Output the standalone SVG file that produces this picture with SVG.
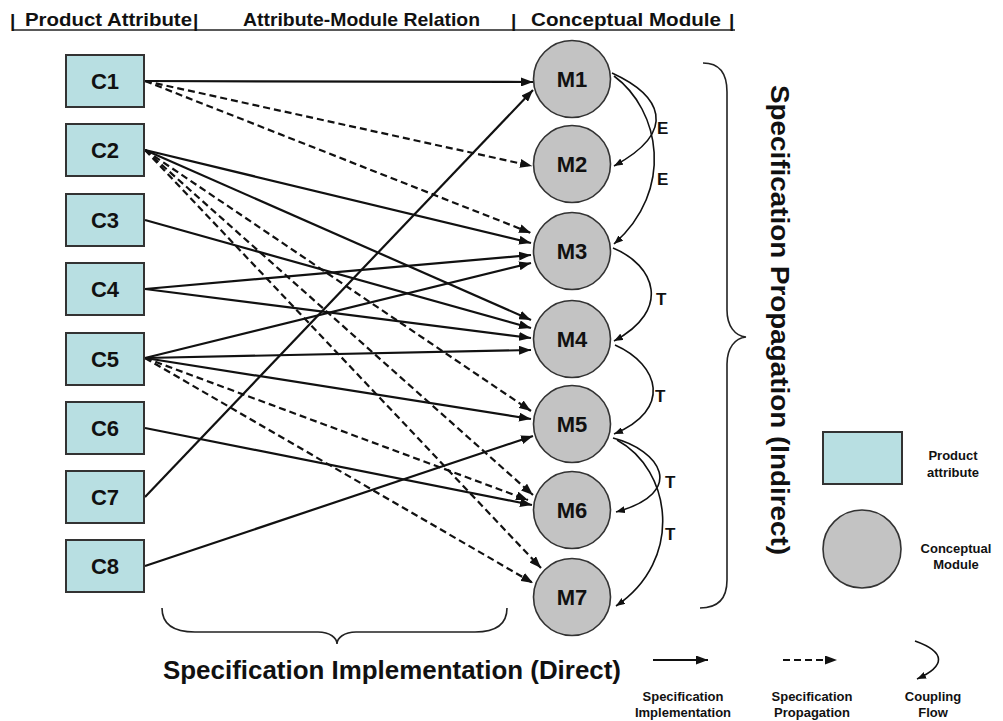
<svg xmlns="http://www.w3.org/2000/svg" width="1003" height="721" viewBox="0 0 1003 721">
  <style>
    text { font-family: "Liberation Sans", Arial, sans-serif; font-weight: bold; fill: #111; }
    .hdr { font-size: 19px; }
    .lbl { font-size: 22px; text-anchor: middle; }
    .cpl { font-size: 17px; }
    .leg { font-size: 13px; text-anchor: middle; }
    .big { font-size: 26px; }
    .box { fill: #b8dfe2; stroke: #333; stroke-width: 2; }
    .mod { fill: #c3c3c3; stroke: #333; stroke-width: 1.6; }
    .s { stroke: #111; stroke-width: 2.2; fill: none; marker-end: url(#ah); }
    .d { stroke: #111; stroke-width: 2.2; fill: none; stroke-dasharray: 7 4; marker-end: url(#ah); }
    .c { stroke: #111; stroke-width: 1.6; fill: none; marker-end: url(#ch); }
    .brace { stroke: #222; stroke-width: 1.6; fill: none; }
  </style>
  <defs>
    <marker id="ah" markerUnits="userSpaceOnUse" viewBox="0 0 12 9" refX="12" refY="4.5" markerWidth="12" markerHeight="9" orient="auto">
      <path d="M0,0 L12,4.5 L0,9 z" fill="#111"/>
    </marker>
    <marker id="ch" markerUnits="userSpaceOnUse" viewBox="0 0 9 7" refX="9" refY="3.5" markerWidth="9" markerHeight="7" orient="auto">
      <path d="M0,0 L9,3.5 L0,7 z" fill="#111"/>
    </marker>
  </defs>

  <!-- column header ruler -->
  <g id="header">
    <line x1="12" y1="30" x2="735" y2="30" stroke="#222" stroke-width="1.5"/>
    <text class="hdr" x="10" y="27">|</text>
    <text class="hdr" x="25" y="26" textLength="167" lengthAdjust="spacingAndGlyphs">Product Attribute</text>
    <text class="hdr" x="193" y="27">|</text>
    <text class="hdr" x="243" y="26" textLength="237" lengthAdjust="spacingAndGlyphs">Attribute-Module Relation</text>
    <text class="hdr" x="511" y="27">|</text>
    <text class="hdr" x="531" y="26" textLength="190" lengthAdjust="spacingAndGlyphs">Conceptual Module</text>
    <text class="hdr" x="729" y="27">|</text>
  </g>

  <!-- connectors -->
  <g id="connectors">
    <!-- specification implementation -->
    <line class="s" x1="145" y1="81" x2="533" y2="82"/>
    <line class="s" x1="145" y1="150" x2="531" y2="243"/>
    <line class="s" x1="145" y1="150" x2="531" y2="320"/>
    <line class="s" x1="145" y1="220" x2="531" y2="328"/>
    <line class="s" x1="145" y1="289" x2="531" y2="255"/>
    <line class="s" x1="145" y1="289" x2="531" y2="338"/>
    <line class="s" x1="145" y1="358" x2="531" y2="263"/>
    <line class="s" x1="145" y1="358" x2="531" y2="350"/>
    <line class="s" x1="145" y1="358" x2="531" y2="419"/>
    <line class="s" x1="145" y1="428" x2="532" y2="505"/>
    <line class="s" x1="145" y1="497" x2="533" y2="90"/>
    <line class="s" x1="145" y1="566" x2="533" y2="436"/>
    <!-- specification propagation -->
    <line class="d" x1="145" y1="81" x2="532" y2="166"/>
    <line class="d" x1="145" y1="81" x2="531" y2="233"/>
    <line class="d" x1="145" y1="150" x2="531" y2="411"/>
    <line class="d" x1="145" y1="150" x2="533" y2="495"/>
    <line class="d" x1="145" y1="150" x2="541" y2="568"/>
    <line class="d" x1="145" y1="358" x2="528" y2="500"/>
    <line class="d" x1="145" y1="358" x2="533" y2="583"/>
    <!-- coupling flows -->
    <path class="c" d="M612,73 C660,95 680,130 614,166"/>
    <path class="c" d="M614,76 C660,110 675,190 614,244"/>
    <path class="c" d="M613,248 C655,265 672,310 614,341"/>
    <path class="c" d="M615,345 C660,365 672,410 614,434"/>
    <path class="c" d="M613,438 C660,450 688,492 616,512"/>
    <path class="c" d="M617,440 C672,470 684,560 616,606"/>
    <text class="cpl" x="657" y="134">E</text>
    <text class="cpl" x="657" y="185">E</text>
    <text class="cpl" x="656" y="305">T</text>
    <text class="cpl" x="655" y="402">T</text>
    <text class="cpl" x="665" y="488">T</text>
    <text class="cpl" x="665" y="540">T</text>
  </g>

  <!-- product attributes -->
  <g id="C1"><rect class="box" x="66" y="55" width="78" height="52"/><text class="lbl" x="105" y="89">C1</text></g>
  <g id="C2"><rect class="box" x="66" y="124" width="78" height="52"/><text class="lbl" x="105" y="158">C2</text></g>
  <g id="C3"><rect class="box" x="66" y="194" width="78" height="52"/><text class="lbl" x="105" y="228">C3</text></g>
  <g id="C4"><rect class="box" x="66" y="263" width="78" height="52"/><text class="lbl" x="105" y="297">C4</text></g>
  <g id="C5"><rect class="box" x="66" y="333" width="78" height="52"/><text class="lbl" x="105" y="367">C5</text></g>
  <g id="C6"><rect class="box" x="66" y="402" width="78" height="52"/><text class="lbl" x="105" y="436">C6</text></g>
  <g id="C7"><rect class="box" x="66" y="471" width="78" height="52"/><text class="lbl" x="105" y="505">C7</text></g>
  <g id="C8"><rect class="box" x="66" y="540" width="78" height="52"/><text class="lbl" x="105" y="574">C8</text></g>

  <!-- conceptual modules -->
  <g id="M1"><circle class="mod" cx="572" cy="79" r="38.5"/><text class="lbl" x="572" y="87">M1</text></g>
  <g id="M2"><circle class="mod" cx="572" cy="164" r="38.5"/><text class="lbl" x="572" y="172">M2</text></g>
  <g id="M3"><circle class="mod" cx="572" cy="251" r="38.5"/><text class="lbl" x="572" y="259">M3</text></g>
  <g id="M4"><circle class="mod" cx="572" cy="339" r="38.5"/><text class="lbl" x="572" y="347">M4</text></g>
  <g id="M5"><circle class="mod" cx="572" cy="424" r="38.5"/><text class="lbl" x="572" y="432">M5</text></g>
  <g id="M6"><circle class="mod" cx="572" cy="510" r="38.5"/><text class="lbl" x="572" y="518">M6</text></g>
  <g id="M7"><circle class="mod" cx="572" cy="597" r="38.5"/><text class="lbl" x="572" y="605">M7</text></g>

  <!-- braces and their captions -->
  <g id="direct-brace">
    <path class="brace" d="M162,608 C162,625 175,632 195,632 L318,632 C330,632 337,638 337,644 C337,638 344,632 356,632 L475,632 C495,632 507,625 507,608"/>
    <text class="big" x="163" y="679" textLength="458" lengthAdjust="spacingAndGlyphs">Specification Implementation (Direct)</text>
  </g>
  <g id="indirect-brace">
    <path class="brace" d="M703,63 C718,63 727,72 727,92 L727,310 C727,326 735,336 746,337 C735,338 727,348 727,364 L727,580 C727,598 718,608 700,608"/>
    <text class="big" transform="translate(771,320) rotate(90)" x="0" y="0" text-anchor="middle" textLength="470" lengthAdjust="spacingAndGlyphs">Specification Propagation (Indirect)</text>
  </g>

  <!-- legend -->
  <g id="legend">
    <rect class="box" x="823" y="432" width="79" height="52"/>
    <text class="leg" x="953" y="460">Product</text>
    <text class="leg" x="953" y="477">attribute</text>
    <circle class="mod" cx="862" cy="549" r="39"/>
    <text class="leg" x="956" y="553">Conceptual</text>
    <text class="leg" x="956" y="569">Module</text>
    <line class="s" x1="653" y1="660" x2="708" y2="660"/>
    <line class="d" x1="783" y1="660" x2="837" y2="660"/>
    <path class="c" d="M915,641 C946,652 946,666 917,679"/>
    <text class="leg" x="683" y="701">Specification</text>
    <text class="leg" x="683" y="717">Implementation</text>
    <text class="leg" x="812" y="701">Specification</text>
    <text class="leg" x="812" y="717">Propagation</text>
    <text class="leg" x="933" y="701">Coupling</text>
    <text class="leg" x="933" y="717">Flow</text>
  </g>
</svg>
